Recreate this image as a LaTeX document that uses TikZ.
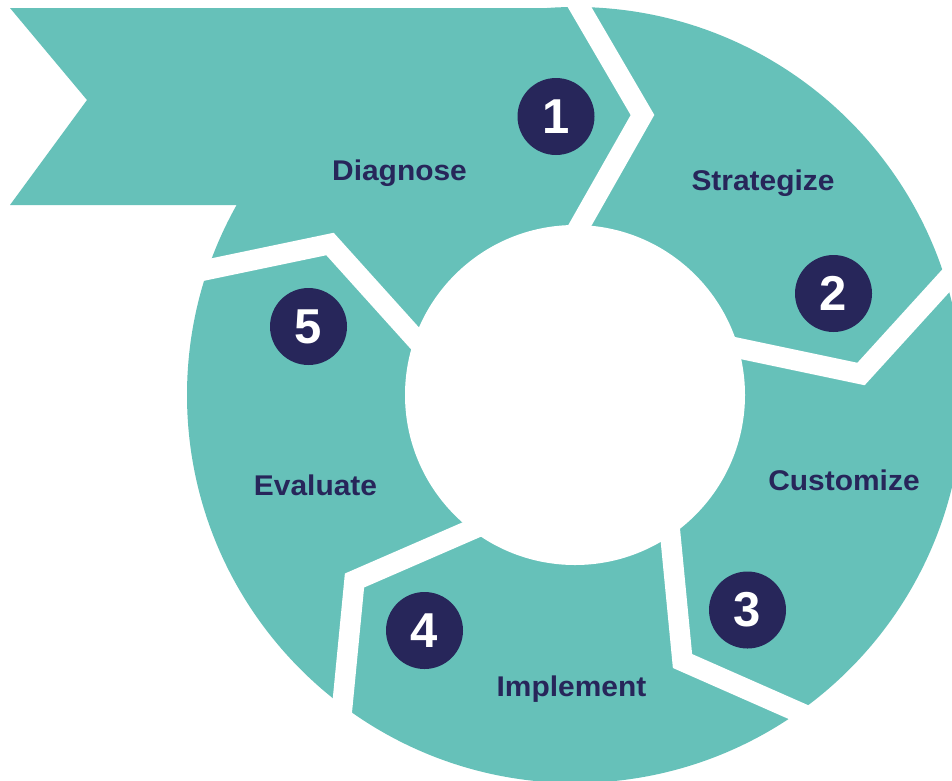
\documentclass[tikz,border=0pt]{standalone}
\usepackage{fontspec}
\setmainfont{Liberation Sans}
\definecolor{tealfill}{HTML}{66C1B9}
\definecolor{navy}{HTML}{27265A}
\begin{document}
\begin{tikzpicture}[x=1pt,y=-1pt,
  gapline/.style={draw=white,line width=20.5pt,line join=miter,miter limit=20},
  lbl/.style={text=navy,font=\bfseries\fontsize{28.5}{30}\selectfont,anchor=base,inner sep=0pt},
  numc/.style={circle,fill=navy,minimum size=77pt,inner sep=0pt,text=white,font=\bfseries\fontsize{49}{50}\selectfont}]
\useasboundingbox (0,0) rectangle (952,780);
\clip (0,0) rectangle (952,780);
\fill[white] (0,0) rectangle (952,780);
\coordinate (C) at (575,395);
% ring and the arrow-shaped first step
\fill[tealfill] (C) circle[radius=388];
\fill[tealfill] (10,8) -- (580,8) -- (575,205) -- (10,205) -- (87,100) -- cycle;
\fill[white] (C) circle[radius=170];
% white chevron gaps between the steps
\draw[gapline] (567.6,-13.4) -- (642.5,115) -- (567.6,247);
\draw[gapline] (712.8,342.8) -- (861,374) -- (962,263);
\draw[gapline] (668,511) -- (682.5,661) -- (820,721.6);
\draw[gapline] (492.5,520.5) -- (354.5,580.5) -- (340,730);
\draw[gapline] (183.6,274.6) -- (330,244) -- (430,355);
% labels
\node[lbl] (t1) at (399.5,180) {\scalebox{1.05}[1]{Diagnose}};
\node[lbl] (t2) at (763,190) {\scalebox{1.05}[1]{Strategize}};
\node[lbl] (t3) at (844,490) {\scalebox{1.05}[1]{Customize}};
\node[lbl] (t4) at (571.5,696) {\scalebox{1.05}[1]{Implement}};
\node[lbl] (t5) at (315.5,495) {\scalebox{1.05}[1]{Evaluate}};
% numbered badges
\node[numc] (n1) at (556,116.5) {1};
\node[numc] (n2) at (833.5,293.5) {2};
\node[numc] (n3) at (747.5,610) {3};
\node[numc] (n4) at (424.5,630.5) {4};
\node[numc] (n5) at (308.5,326.5) {5};
\end{tikzpicture}
\end{document}
